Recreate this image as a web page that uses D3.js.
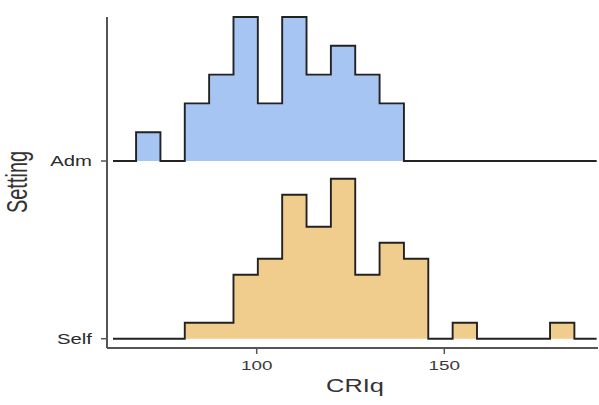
<!DOCTYPE html>
<html lang="en">
<head>
    <meta charset="UTF-8">
    <title>CRIq by Setting</title>
    <script src="https://d3js.org/d3.v7.min.js"></script>
    <style>
        body { margin: 0; background: #fff; }
        text { font-family: "Liberation Sans", Arial, sans-serif; }
    </style>
</head>
<body>
    <div id="chart"></div>
    <script>
        // data
        const settings = ["Adm", "Self"];
        const binStart = 67.85;
        const binWidth = 6.49;
        const admCounts = [1, 0, 2, 3, 5, 2, 5, 3, 4, 3, 2];
        const selfCounts = [0, 0, 1, 1, 4, 5, 9, 7, 10, 4, 6, 5, 0, 1, 0, 0, 0, 1];
        const lineExtent = [61.7, 190.6];
        const xTicks = [100, 150];
        const fills = { Adm: "#a7c5f2", Self: "#f0cd8c" };

        const width = 599, height = 405;
        const padL = 107, padR = 598, padT = 17, padB = 348;
        const sx = 1.45; // horizontal stretch of the glyphs

        const svg = d3.select("#chart").append("svg")
            .attr("width", width).attr("height", height);

        const x = d3.scaleLinear().domain([60.1, 190.7]).range([padL, padL + 130.6 * 3.752]);
        const y = d3.scalePoint().domain(settings).range([161, 338.7]);

        const groups = [
            { name: "Adm", counts: admCounts },
            { name: "Self", counts: selfCounts }
        ];
        groups.forEach(g => {
            const n = d3.sum(g.counts);
            g.bins = g.counts.map((c, i) => ({
                x0: binStart + i * binWidth,
                x1: binStart + (i + 1) * binWidth,
                d: c / n
            }));
        });
        const maxD = d3.max(groups, g => d3.max(g.bins, b => b.d));
        const h = d3.scaleLinear().domain([0, maxD]).range([0, 160]);

        const line = d3.line().x(p => x(p[0])).y(p => p[1]);

        groups.forEach(g => {
            const base = y(g.name);
            const pts = [[lineExtent[0], base]];
            g.bins.forEach(b => {
                pts.push([b.x0, base - h(b.d)]);
                pts.push([b.x1, base - h(b.d)]);
            });
            pts.push([g.bins[g.bins.length - 1].x1, base]);
            pts.push([lineExtent[1], base]);
            // vertical steps
            const stepped = [];
            pts.forEach((p, i) => {
                if (i > 0 && p[1] !== pts[i - 1][1]) stepped.push([p[0], pts[i - 1][1]]);
                stepped.push(p);
            });

            const first = g.bins.find(b => b.d > 0);
            const last = g.bins.filter(b => b.d > 0).pop();
            const area = d3.area().x(p => x(p[0])).y0(base).y1(p => p[1]);
            const fillPts = stepped.filter(p => p[0] >= first.x0 && p[0] <= last.x1);
            svg.append("path")
                .attr("d", area(fillPts))
                .attr("fill", fills[g.name]);
            svg.append("path")
                .attr("d", line(stepped))
                .attr("fill", "none")
                .attr("stroke", "#222")
                .attr("stroke-width", 1.9)
                .attr("stroke-linejoin", "miter");
        });

        // axes
        svg.append("line")
            .attr("x1", padL).attr("x2", padL).attr("y1", padT).attr("y2", padB)
            .attr("stroke", "#555").attr("stroke-width", 2);
        svg.append("line")
            .attr("x1", padL).attr("x2", padR).attr("y1", padB).attr("y2", padB)
            .attr("stroke", "#555").attr("stroke-width", 2);

        settings.forEach(s => {
            svg.append("line")
                .attr("x1", padL - 6).attr("x2", padL).attr("y1", y(s)).attr("y2", y(s))
                .attr("stroke", "#555").attr("stroke-width", 1.5);
            svg.append("text")
                .attr("transform", `translate(${padL - 15},${y(s) + 5}) scale(${sx},1)`)
                .attr("text-anchor", "end")
                .attr("font-size", 14)
                .attr("fill", "#2a2a2a")
                .text(s);
        });

        xTicks.forEach(t => {
            svg.append("line")
                .attr("x1", x(t)).attr("x2", x(t)).attr("y1", padB).attr("y2", padB + 6)
                .attr("stroke", "#555").attr("stroke-width", 1.5);
            svg.append("text")
                .attr("transform", `translate(${x(t)},${padB + 22}) scale(${sx},1)`)
                .attr("text-anchor", "middle")
                .attr("font-size", 13)
                .attr("fill", "#3a3a3a")
                .text(t);
        });

        svg.append("text")
            .attr("transform", `translate(355,392) scale(${sx},1)`)
            .attr("text-anchor", "middle")
            .attr("font-size", 17.5)
            .attr("fill", "#333")
            .text("CRIq");

        svg.append("text")
            .attr("transform", `translate(27,182) scale(${sx},1) rotate(-90)`)
            .attr("text-anchor", "middle")
            .attr("font-size", 20)
            .attr("fill", "#333")
            .text("Setting");
    </script>
</body>
</html>
